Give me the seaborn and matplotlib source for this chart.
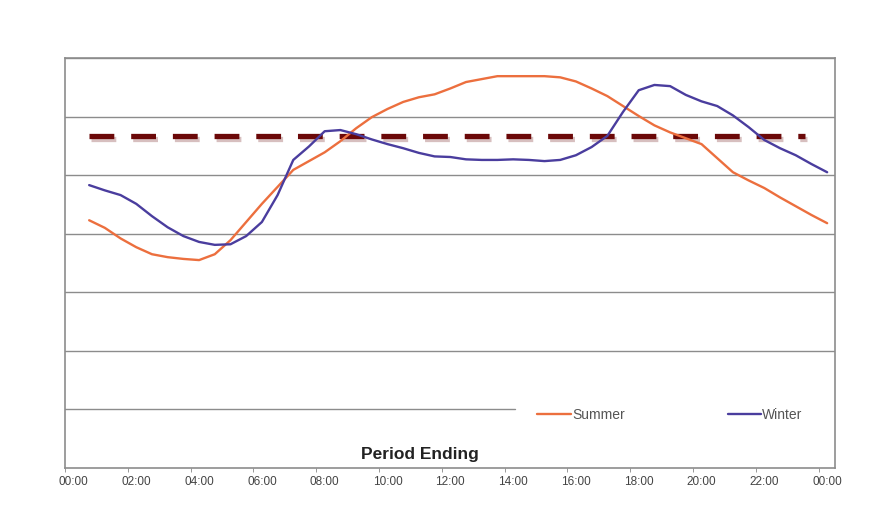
import numpy as np
import pandas as pd
import matplotlib
matplotlib.use("Agg")
import matplotlib.pyplot as plt
import matplotlib.patheffects as pe
import seaborn as sns

# Half-hourly periods (period ending), 00:30 .. 24:00
hours = np.arange(1, 49) * 0.5

summer = [4.23, 4.10, 3.92, 3.77, 3.65, 3.60, 3.57, 3.55, 3.65, 3.89,
          4.20, 4.51, 4.80, 5.09, 5.24, 5.39, 5.58, 5.80, 5.99, 6.13,
          6.25, 6.33, 6.38, 6.48, 6.59, 6.64, 6.69, 6.69, 6.69, 6.69,
          6.67, 6.60, 6.48, 6.35, 6.18, 6.01, 5.85, 5.73, 5.63, 5.53,
          5.29, 5.05, 4.91, 4.78, 4.62, 4.47, 4.32, 4.18]

winter = [4.83, 4.74, 4.66, 4.51, 4.30, 4.11, 3.96, 3.86, 3.81, 3.82,
          3.96, 4.20, 4.66, 5.26, 5.49, 5.75, 5.77, 5.70, 5.61, 5.53,
          5.46, 5.38, 5.32, 5.31, 5.27, 5.26, 5.26, 5.27, 5.26, 5.24,
          5.26, 5.34, 5.48, 5.67, 6.08, 6.45, 6.54, 6.52, 6.37, 6.26,
          6.18, 6.02, 5.82, 5.60, 5.46, 5.34, 5.19, 5.05]

target_level = 5.67
target_start, target_end = 0.5, 23.3

tick_hours = list(range(0, 25, 2))
tick_labels = ["00:00", "02:00", "04:00", "06:00", "08:00", "10:00", "12:00",
               "14:00", "16:00", "18:00", "20:00", "22:00", "00:00"]

df = pd.DataFrame({
    "hour": np.concatenate([hours, hours]),
    "value": summer + winter,
    "season": ["Summer"] * len(hours) + ["Winter"] * len(hours),
})

sns.set_style("white")
plt.rcParams["font.family"] = ["Liberation Sans", "DejaVu Sans"]

fig = plt.figure(figsize=(8.77, 5.08), dpi=100)
ax = fig.add_axes([0.0741, 0.0787, 0.878, 0.8071])

# grid lines (the lowest one is hidden behind the legend on the right)
for v in range(1, 8):
    ax.axhline(v, xmax=0.584 if v == 1 else 1, color="#8c8c8c", lw=1.0, zorder=1)

# dashed reference level
ax.hlines(target_level, target_start, target_end, colors="#6b0808", lw=3.8,
          linestyles=(0, (4.7, 3.2)), zorder=3,
          path_effects=[pe.SimpleLineShadow(offset=(1.5, -2), shadow_color="#b08080", alpha=0.5),
                        pe.Normal()])

sns.lineplot(data=df, x="hour", y="value", hue="season",
             palette={"Summer": "#ec6f3e", "Winter": "#4a3d9e"},
             lw=1.7, ax=ax, zorder=4)

ax.set_xlim(-0.27, 24.25)
ax.set_ylim(0, 7)
ax.set_xticks(tick_hours)
ax.set_xticklabels(tick_labels, fontsize=8.5, color="#444444")
ax.set_xticks(np.arange(-0.27, 24.3, 2.0), minor=True)
ax.tick_params(axis="x", which="major", length=0, pad=6)
ax.tick_params(axis="x", which="minor", length=3, color="#888888", direction="out", bottom=True)
ax.set_yticks(range(0, 8))
ax.set_yticklabels([""] * 8)
ax.tick_params(axis="y", length=0)
ax.set_xlabel("")
ax.set_ylabel("")

for side in ["left", "bottom", "right", "top"]:
    ax.spines[side].set_color("#8c8c8c")
    ax.spines[side].set_linewidth(1.2)

ax.text(0.461, 0.032, "Period Ending", transform=ax.transAxes, ha="center",
        va="center", fontsize=12.5, fontweight="bold", color="#222222")

handles, labels = ax.get_legend_handles_labels()
leg = ax.legend(handles, labels, loc="center left", bbox_to_anchor=(0.6135, 0.129),
                ncol=2, frameon=False, fontsize=10, borderaxespad=0, borderpad=0,
                handlelength=2.4, handletextpad=0.1, columnspacing=7.4)
for t in leg.get_texts():
    t.set_color("#555555")

fig.savefig("out.png", dpi=100, facecolor="white")
